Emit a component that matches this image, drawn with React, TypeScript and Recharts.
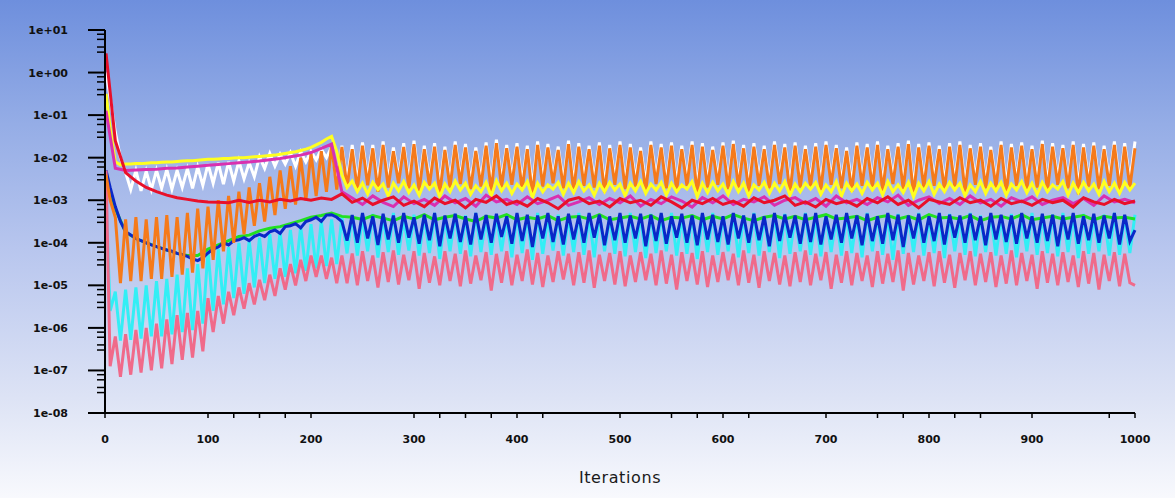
import { LineChart, Line, XAxis, YAxis } from "recharts"

// iterations sampled every 5 (fine) and every 10 (coarse) — residuals stored as log10 exponents
const ITERS_FINE = [1, ...Array.from({ length: 200 }, (_, i) => (i + 1) * 5)]
const ITERS_COARSE = [1, ...Array.from({ length: 100 }, (_, i) => (i + 1) * 10)]

const X_MAJOR = [0, 100, 200, 300, 400, 500, 600, 700, 800, 900, 1000]
const X_MINOR = [125, 150, 175, 325, 350, 375, 425, 550, 575, 625, 750, 775, 825, 850, 975]
const Y_MAJOR = [-8, -7, -6, -5, -4, -3, -2, -1, 0, 1]
const Y_MINOR_OFFSETS = [0.48, 0.6, 0.78, 0.9]

const ORANGE = [
  -2.4, -3.0, -3.4, -4.95, -3.45, -4.9, -3.4, -4.9, -3.45, -4.85,
  -3.4, -4.85, -3.35, -4.8, -3.4, -4.75, -3.3, -4.7, -3.2, -4.6,
  -3.15, -4.4, -3.0, -4.2, -2.9, -4.0, -2.8, -3.8, -2.7, -3.6,
  -2.6, -3.5, -2.45, -3.35, -2.3, -3.2, -2.2, -3.1, -2.0, -3.0,
  -1.9, -2.9, -1.85, -2.8, -1.7, -2.75, -1.75,
  -2.7, -1.8, -2.75, -1.72, -2.65, -1.78, -2.8, -1.7, -2.7, -1.85,
  -2.6, -1.75, -2.72, -1.68, -2.78, -1.8, -2.66, -1.74, -2.85, -1.82,
  -2.7, -1.7, -2.62, -1.76, -2.74, -1.84, -2.68, -1.72, -2.8, -1.66,
  -2.7, -1.78, -2.64, -1.74, -2.76, -1.8, -2.9, -1.7, -2.68, -1.76,
  -2.6, -1.82, -2.72, -1.68, -2.78, -1.74, -2.66, -1.8, -2.7, -1.72,
  -2.82, -1.78, -2.64, -1.7, -2.74, -1.76, -2.68, -1.84, -2.8, -1.7,
  -2.62, -1.76, -2.72, -1.72, -2.78, -1.8, -2.66, -1.7, -2.86, -1.74,
  -2.7, -1.82, -2.64, -1.72, -2.74, -1.68, -2.7, -1.78, -2.8, -1.74,
  -2.66, -1.8, -2.72, -1.7, -2.62, -1.76, -2.84, -1.72, -2.7, -1.8,
  -2.68, -1.74, -2.76, -1.7, -2.64, -1.78, -2.72, -1.84, -2.8, -1.72,
  -2.66, -1.76, -2.7, -1.7, -2.78, -1.8, -2.62, -1.74, -2.74, -1.68,
  -2.88, -1.76, -2.7, -1.72, -2.66, -1.8, -2.76, -1.74, -2.68, -1.7,
  -2.8, -1.78, -2.64, -1.74, -2.72, -1.82, -2.7, -1.7, -2.84, -1.76,
  -2.66, -1.72, -2.74, -1.8, -2.7, -1.68, -2.78, -1.74, -2.64, -1.78,
  -2.72, -1.7, -2.86, -1.76, -2.68, -1.72, -2.74, -1.8, -2.66, -1.7,
  -2.76, -1.74, -2.7, -1.78,
]

const WHITE = [
  0.0, -0.6, -1.4, -2.0, -2.35, -2.75, -2.3, -2.78, -2.32, -2.75,
  -2.3, -2.72, -2.28, -2.74, -2.3, -2.7, -2.26, -2.72, -2.22, -2.65,
  -2.15, -2.6, -2.12, -2.62, -2.1, -2.55, -2.08, -2.5, -2.12, -2.45,
  -1.98, -2.25, -1.9, -2.2, -1.92, -2.15, -1.88, -2.2, -1.86, -2.1,
  -1.85, -2.05, -1.8, -2.0, -1.75, -2.6, -1.72,
  -2.55, -1.7, -2.6, -1.64, -2.5, -1.7, -2.62, -1.62, -2.55, -1.76,
  -2.5, -1.66, -2.58, -1.6, -2.6, -1.72, -2.52, -1.66, -2.66, -1.74,
  -2.55, -1.62, -2.5, -1.68, -2.6, -1.76, -2.54, -1.64, -2.62, -1.58,
  -2.56, -1.7, -2.5, -1.66, -2.6, -1.72, -2.7, -1.62, -2.54, -1.68,
  -2.48, -1.74, -2.58, -1.6, -2.62, -1.66, -2.52, -1.72, -2.56, -1.64,
  -2.64, -1.7, -2.5, -1.62, -2.6, -1.68, -2.54, -1.76, -2.62, -1.62,
  -2.48, -1.68, -2.58, -1.64, -2.62, -1.72, -2.52, -1.62, -2.68, -1.66,
  -2.56, -1.74, -2.5, -1.64, -2.6, -1.6, -2.56, -1.7, -2.64, -1.66,
  -2.52, -1.72, -2.58, -1.62, -2.48, -1.68, -2.66, -1.64, -2.56, -1.72,
  -2.54, -1.66, -2.6, -1.62, -2.5, -1.7, -2.58, -1.76, -2.62, -1.64,
  -2.52, -1.68, -2.56, -1.62, -2.62, -1.72, -2.48, -1.66, -2.6, -1.6,
  -2.7, -1.68, -2.56, -1.64, -2.52, -1.72, -2.6, -1.66, -2.54, -1.62,
  -2.64, -1.7, -2.5, -1.66, -2.58, -1.74, -2.56, -1.62, -2.66, -1.68,
  -2.52, -1.64, -2.6, -1.72, -2.56, -1.6, -2.62, -1.66, -2.5, -1.7,
  -2.58, -1.62, -2.68, -1.68, -2.54, -1.64, -2.6, -1.72, -2.52, -1.62,
  -2.6, -1.66, -2.56, -1.62,
]

const YELLOW = [
  -0.5, -1.3, -2.1, -2.17, -2.15, -2.15, -2.14, -2.14, -2.13, -2.12,
  -2.12, -2.11, -2.1, -2.1, -2.09, -2.08, -2.07, -2.07, -2.06, -2.05,
  -2.04, -2.04, -2.03, -2.02, -2.02, -2.01, -2.0, -2.0, -1.99, -1.98,
  -1.97, -1.96, -1.95, -1.94, -1.92, -1.9, -1.88, -1.86, -1.83, -1.8,
  -1.76, -1.7, -1.64, -1.56, -1.5, -1.85, -2.4,
  -2.7, -2.55, -2.8, -2.6, -2.85, -2.58, -2.75, -2.62, -2.9, -2.6,
  -2.78, -2.56, -2.82, -2.64, -2.88, -2.58, -2.74, -2.6, -2.92, -2.62,
  -2.8, -2.55, -2.76, -2.6, -2.86, -2.66, -2.8, -2.58, -2.9, -2.54,
  -2.78, -2.6, -2.84, -2.62, -2.76, -2.56, -2.94, -2.6, -2.8, -2.64,
  -2.74, -2.58, -2.86, -2.6, -2.82, -2.56, -2.78, -2.64, -2.88, -2.6,
  -2.8, -2.58, -2.76, -2.62, -2.9, -2.6, -2.78, -2.56, -2.84, -2.62,
  -2.76, -2.58, -2.88, -2.6, -2.8, -2.64, -2.74, -2.56, -2.92, -2.6,
  -2.82, -2.58, -2.78, -2.62, -2.86, -2.56, -2.8, -2.6, -2.9, -2.64,
  -2.76, -2.58, -2.84, -2.6, -2.78, -2.56, -2.88, -2.62, -2.8, -2.6,
  -2.74, -2.58, -2.86, -2.64, -2.8, -2.56, -2.9, -2.6, -2.78, -2.62,
  -2.84, -2.58, -2.76, -2.6, -2.88, -2.56, -2.8, -2.64, -2.82, -2.58,
  -2.92, -2.6, -2.78, -2.56, -2.86, -2.62, -2.8, -2.58, -2.76, -2.6,
  -2.9, -2.64, -2.8, -2.56, -2.84, -2.6, -2.78, -2.58, -2.88, -2.62,
  -2.76, -2.56, -2.82, -2.6, -2.86, -2.58, -2.8, -2.64, -2.74, -2.56,
  -2.88, -2.6, -2.82, -2.58, -2.78, -2.62, -2.86, -2.56, -2.8, -2.6,
  -2.84, -2.58, -2.76, -2.6,
]

const CYAN = [
  -3.0, -5.6, -5.15, -6.3, -5.1, -6.28, -5.05, -6.25, -5.0, -6.2,
  -4.9, -6.2, -4.85, -6.15, -4.75, -6.1, -4.6, -6.05, -4.5, -5.9,
  -4.2, -5.6, -4.15, -5.45, -4.1, -5.3, -4.0, -5.2, -3.95, -5.05,
  -3.88, -4.95, -3.8, -4.85, -3.75, -4.8, -3.7, -4.72, -3.62, -4.66,
  -3.56, -4.6, -3.5, -4.55, -3.45, -4.5, -3.4,
  -4.25, -3.35, -4.3, -3.4, -4.2, -3.32, -4.35, -3.38, -4.22, -3.3,
  -4.28, -3.42, -4.18, -3.34, -4.3, -3.36, -4.24, -3.3, -4.38, -3.4,
  -4.2, -3.32, -4.26, -3.36, -4.32, -3.3, -4.22, -3.4, -4.28, -3.34,
  -4.2, -3.38, -4.34, -3.32, -4.24, -3.36, -4.4, -3.3, -4.26, -3.4,
  -4.18, -3.34, -4.3, -3.38, -4.22, -3.3, -4.28, -3.36, -4.34, -3.32,
  -4.2, -3.4, -4.26, -3.34, -4.32, -3.3, -4.22, -3.38, -4.36, -3.32,
  -4.24, -3.36, -4.2, -3.3, -4.3, -3.4, -4.26, -3.34, -4.38, -3.36,
  -4.22, -3.3, -4.28, -3.38, -4.2, -3.32, -4.34, -3.36, -4.24, -3.3,
  -4.3, -3.4, -4.22, -3.34, -4.36, -3.32, -4.26, -3.38, -4.2, -3.3,
  -4.28, -3.36, -4.32, -3.34, -4.22, -3.4, -4.3, -3.32, -4.24, -3.36,
  -4.34, -3.3, -4.2, -3.38, -4.28, -3.34, -4.4, -3.32, -4.26, -3.36,
  -4.22, -3.3, -4.3, -3.4, -4.24, -3.34, -4.36, -3.32, -4.2, -3.38,
  -4.28, -3.3, -4.32, -3.36, -4.22, -3.34, -4.3, -3.4, -4.26, -3.32,
  -4.34, -3.36, -4.2, -3.3, -4.28, -3.38, -4.24, -3.34, -4.32, -3.3,
  -4.22, -3.36, -4.36, -3.32, -4.26, -3.38, -4.2, -3.34, -4.3, -3.3,
  -4.28, -3.36, -4.24, -3.34,
]

const PINK = [
  -2.3, -6.9, -6.2, -7.15, -6.15, -7.1, -6.05, -7.05, -6.0, -7.0,
  -5.9, -6.95, -5.8, -6.85, -5.7, -6.75, -5.65, -6.7, -5.6, -6.55,
  -5.3, -6.1, -5.25, -5.9, -5.15, -5.7, -5.05, -5.55, -4.95, -5.45,
  -4.87, -5.35, -4.75, -5.25, -4.6, -5.1, -4.5, -5.0, -4.4, -4.9,
  -4.3, -4.8, -4.3, -4.85, -4.35, -4.95, -4.3,
  -4.95, -4.25, -5.0, -4.2, -4.9, -4.3, -5.05, -4.22, -4.92, -4.18,
  -4.98, -4.28, -4.88, -4.2, -5.08, -4.24, -4.94, -4.32, -5.0, -4.2,
  -4.9, -4.26, -5.02, -4.18, -4.96, -4.3, -4.88, -4.22, -5.12, -4.26,
  -4.94, -4.2, -5.0, -4.28, -4.9, -4.16, -4.98, -4.24, -5.04, -4.3,
  -4.92, -4.2, -4.86, -4.26, -5.0, -4.22, -4.94, -4.18, -5.06, -4.28,
  -4.9, -4.24, -4.98, -4.2, -5.02, -4.3, -4.92, -4.22, -4.88, -4.26,
  -5.0, -4.18, -4.96, -4.28, -5.1, -4.22, -4.9, -4.24, -4.98, -4.2,
  -5.04, -4.3, -4.92, -4.22, -4.88, -4.26, -5.0, -4.18, -4.94, -4.28,
  -5.06, -4.2, -4.9, -4.24, -4.98, -4.3, -5.02, -4.22, -4.92, -4.18,
  -5.0, -4.26, -4.88, -4.22, -5.08, -4.28, -4.94, -4.2, -5.0, -4.24,
  -4.9, -4.3, -5.04, -4.2, -4.96, -4.26, -4.92, -4.18, -5.12, -4.24,
  -4.98, -4.3, -4.9, -4.22, -5.02, -4.2, -4.94, -4.28, -5.06, -4.24,
  -4.88, -4.2, -5.0, -4.26, -4.92, -4.22, -5.04, -4.3, -4.96, -4.18,
  -5.0, -4.24, -4.9, -4.28, -5.08, -4.2, -4.94, -4.26, -5.0, -4.22,
  -4.92, -4.3, -5.04, -4.2, -4.96, -4.24, -5.1, -4.28, -4.9, -4.22,
  -5.02, -4.26, -4.94, -5.0,
]

const BLUE = [
  -2.3, -2.7, -3.15, -3.5, -3.74, -3.82, -3.9, -3.95, -4.0, -4.05,
  -4.09, -4.13, -4.17, -4.2, -4.25, -4.28, -4.32, -4.38, -4.42, -4.35,
  -4.24, -4.15, -4.1, -4.0, -4.05, -3.95, -3.93, -3.88, -3.95, -3.85,
  -3.8, -3.85, -3.74, -3.7, -3.78, -3.62, -3.6, -3.55, -3.65, -3.5,
  -3.46, -3.4, -3.5, -3.35, -3.34, -3.4, -3.5,
  -3.95, -3.35, -4.0, -3.3, -3.9, -3.38, -4.05, -3.32, -3.92, -3.36,
  -4.0, -3.3, -3.88, -3.4, -4.02, -3.34, -3.94, -3.3, -4.08, -3.36,
  -3.9, -3.32, -3.98, -3.38, -4.04, -3.3, -3.92, -3.35, -4.0, -3.32,
  -3.86, -3.38, -4.02, -3.3, -3.96, -3.34, -4.1, -3.36, -3.9, -3.3,
  -3.98, -3.38, -4.04, -3.32, -3.92, -3.36, -4.0, -3.3, -3.88, -3.34,
  -4.06, -3.38, -3.94, -3.3, -4.0, -3.36, -3.9, -3.32, -4.08, -3.34,
  -3.96, -3.3, -4.02, -3.38, -3.88, -3.32, -4.0, -3.36, -4.06, -3.3,
  -3.92, -3.34, -3.98, -3.38, -4.04, -3.3, -3.9, -3.36, -4.0, -3.32,
  -3.94, -3.38, -4.08, -3.3, -3.96, -3.34, -3.88, -3.36, -4.02, -3.32,
  -3.98, -3.3, -4.04, -3.38, -3.92, -3.34, -4.0, -3.3, -3.9, -3.36,
  -4.06, -3.32, -3.96, -3.38, -4.02, -3.3, -3.94, -3.34, -4.1, -3.36,
  -3.9, -3.32, -4.0, -3.38, -3.96, -3.3, -4.04, -3.34, -3.88, -3.36,
  -4.0, -3.32, -3.94, -3.38, -4.06, -3.3, -3.92, -3.34, -3.98, -3.36,
  -4.02, -3.3, -3.9, -3.38, -4.0, -3.32, -3.96, -3.34, -4.08, -3.36,
  -3.92, -3.3, -4.02, -3.38, -3.94, -3.32, -4.0, -3.36, -3.9, -3.3,
  -4.04, -3.34, -3.96, -3.7,
]

const RED = [
  0.45, -1.6, -2.35, -2.55, -2.7, -2.8, -2.88, -2.94, -2.98, -3.02,
  -3.04, -3.05, -3.06, -3.0, -3.05, -3.0, -3.04, -2.98, -3.02, -2.96,
  -3.0, -2.95, -2.98, -2.85,
  -3.05, -2.95, -3.1, -3.0, -2.92, -3.12, -3.02, -3.15, -2.95, -3.08,
  -3.0, -3.18, -2.98, -3.05, -2.9, -3.1, -3.02, -3.14, -2.96, -3.06,
  -3.2, -3.0, -2.94, -3.08, -3.02, -3.16, -2.96, -3.06, -3.0, -3.12,
  -2.92, -3.04, -3.18, -3.0, -3.08, -2.96, -3.1, -3.02, -3.14, -2.94,
  -3.06, -3.0, -2.9, -3.12, -3.04, -3.16, -2.98, -3.08, -3.02, -3.14,
  -2.96, -3.06, -2.92, -3.1, -3.0, -3.18, -2.98, -3.04, -3.1, -2.94,
  -3.06, -3.0, -3.14, -2.96, -3.08, -3.02, -3.12, -2.98, -3.06, -3.0,
  -3.16, -2.94, -3.04, -3.1, -2.98, -3.08, -3.02,
]

const MAGENTA = [
  -0.9, -2.25, -2.3, -2.29, -2.28, -2.27, -2.25, -2.24, -2.22, -2.2,
  -2.18, -2.16, -2.14, -2.12, -2.1, -2.08, -2.05, -2.02, -1.98, -1.94,
  -1.88, -1.78, -1.68, -2.8,
  -2.95, -3.1, -2.9, -3.05, -3.15, -2.92, -3.08, -2.98, -3.12, -2.9,
  -3.06, -2.96, -3.14, -2.88, -3.04, -2.98, -3.1, -2.92, -3.08, -3.0,
  -2.9, -3.12, -3.04, -2.94, -3.1, -2.96, -3.06, -2.9, -3.14, -2.98,
  -3.08, -2.92, -3.02, -3.16, -2.94, -3.06, -2.9, -3.1, -2.98, -3.04,
  -2.92, -3.12, -3.0, -2.94, -3.08, -2.96, -3.14, -2.9, -3.06, -2.98,
  -3.1, -2.94, -3.04, -2.88, -3.12, -3.0, -2.92, -3.08, -2.96, -3.1,
  -2.9, -3.06, -2.98, -3.14, -2.94, -3.04, -2.92, -3.1, -3.0, -2.94,
  -3.08, -2.96, -3.12, -2.9, -3.04, -2.98, -3.06,
]

const GREEN = [
  -2.5, -3.2, -3.75, -3.9, -4.0, -4.09, -4.17, -4.25, -4.3, -4.3,
  -4.15, -4.05, -3.95, -3.85, -3.82, -3.72, -3.66, -3.62, -3.55, -3.48,
  -3.4, -3.36, -3.3, -3.38,
  -3.4, -3.45, -3.36, -3.42, -3.48, -3.38, -3.44, -3.34, -3.46, -3.4,
  -3.36, -3.44, -3.5, -3.38, -3.42, -3.34, -3.46, -3.4, -3.44, -3.36,
  -3.48, -3.4, -3.38, -3.44, -3.34, -3.46, -3.42, -3.38, -3.44, -3.36,
  -3.48, -3.4, -3.42, -3.36, -3.46, -3.38, -3.44, -3.34, -3.42, -3.48,
  -3.4, -3.36, -3.44, -3.38, -3.46, -3.4, -3.34, -3.44, -3.42, -3.38,
  -3.48, -3.4, -3.36, -3.44, -3.38, -3.46, -3.34, -3.42, -3.4, -3.44,
  -3.36, -3.48, -3.4, -3.38, -3.44, -3.34, -3.46, -3.42, -3.38, -3.44,
  -3.4, -3.36, -3.46, -3.38, -3.42, -3.4, -3.44,
]

const coarseAt = (arr: number[]) => {
  const m = new Map<number, number>()
  ITERS_COARSE.forEach((it, i) => m.set(it, arr[i]))
  return m
}
const redMap = coarseAt(RED)
const magentaMap = coarseAt(MAGENTA)
const greenMap = coarseAt(GREEN)

const rows = ITERS_FINE.map((it, i) => ({
  it,
  white: WHITE[i],
  orange: ORANGE[i],
  yellow: YELLOW[i],
  cyan: CYAN[i],
  pink: PINK[i],
  blue: BLUE[i],
  red: redMap.get(it) ?? null,
  magenta: magentaMap.get(it) ?? null,
  green: greenMap.get(it) ?? null,
}))

const yTicks = [
  ...Y_MAJOR,
  ...Y_MAJOR.slice(0, -1).flatMap((k) => Y_MINOR_OFFSETS.map((o) => k + o)),
].sort((a, b) => a - b)

const xTicks = [...X_MAJOR, ...X_MINOR].sort((a, b) => a - b)

const fmtExp = (v: number) =>
  `1e${v >= 0 ? "+" : "-"}${String(Math.abs(v)).padStart(2, "0")}`

const tickFont = {
  fontFamily: "'DejaVu Sans', sans-serif",
  fontSize: 11,
  fontWeight: 700,
}

function YTick(props: any) {
  const { x, y, payload } = props
  const major = Number.isInteger(payload.value)
  return (
    <g>
      <line
        x1={x - (major ? 17 : 8)}
        x2={x}
        y1={y}
        y2={y}
        stroke="#000"
        strokeWidth={major ? 2 : 1.5}
      />
      {major && (
        <text x={x - 37} y={y + 4} textAnchor="end" fill="#111" style={tickFont}>
          {fmtExp(payload.value)}
        </text>
      )}
    </g>
  )
}

function XTick(props: any) {
  const { x, y, payload } = props
  const major = X_MAJOR.includes(payload.value)
  return (
    <g>
      <line x1={x} x2={x} y1={y} y2={y + 5} stroke="#000" strokeWidth={1.5} />
      {major && (
        <text x={x} y={y + 30} textAnchor="middle" fill="#111" style={tickFont}>
          {payload.value}
        </text>
      )}
    </g>
  )
}

const SERIES = [
  { key: "white", color: "#ffffff" },
  { key: "cyan", color: "#33eef5" },
  { key: "green", color: "#22e022" },
  { key: "blue", color: "#0a28c8" },
  { key: "pink", color: "#f06a8a" },
  { key: "orange", color: "#f57a1a" },
  { key: "yellow", color: "#ffff20" },
  { key: "magenta", color: "#d930b0" },
  { key: "red", color: "#e8102a" },
]

export default function App() {
  return (
    <div
      style={{
        position: "absolute",
        left: 0,
        top: 0,
        width: 1175,
        height: 498,
        background:
          "linear-gradient(180deg, #6e8fdd 0%, #95ade6 25%, #b8c6ee 50%, #dde3f5 80%, #f8f9fd 100%)",
      }}
    >
      <LineChart
        width={1175}
        height={498}
        data={rows}
        margin={{ top: 30, right: 40, bottom: 0, left: 0 }}
      >
        <XAxis
          dataKey="it"
          type="number"
          domain={[0, 1000]}
          ticks={xTicks}
          interval={0}
          height={85}
          tickSize={0}
          tickMargin={0}
          tickLine={false}
          tick={<XTick />}
          axisLine={{ stroke: "#000", strokeWidth: 2 }}
          label={{
            value: "Iterations",
            position: "insideTop",
            offset: 59,
            style: {
              fontFamily: "'DejaVu Sans', sans-serif",
              fontSize: 16,
              letterSpacing: 0.6,
              fill: "#1a1a1a",
            },
          }}
        />
        <YAxis
          type="number"
          domain={[-8, 1]}
          ticks={yTicks}
          interval={0}
          width={105}
          tickSize={0}
          tickMargin={0}
          tickLine={false}
          tick={<YTick />}
          axisLine={{ stroke: "#000", strokeWidth: 2 }}
          allowDataOverflow
        />
        {SERIES.map((s) => (
          <Line
            key={s.key}
            type="linear"
            dataKey={s.key}
            stroke={s.color}
            strokeWidth={3}
            dot={false}
            activeDot={false}
            connectNulls
            isAnimationActive={false}
          />
        ))}
      </LineChart>
    </div>
  )
}
